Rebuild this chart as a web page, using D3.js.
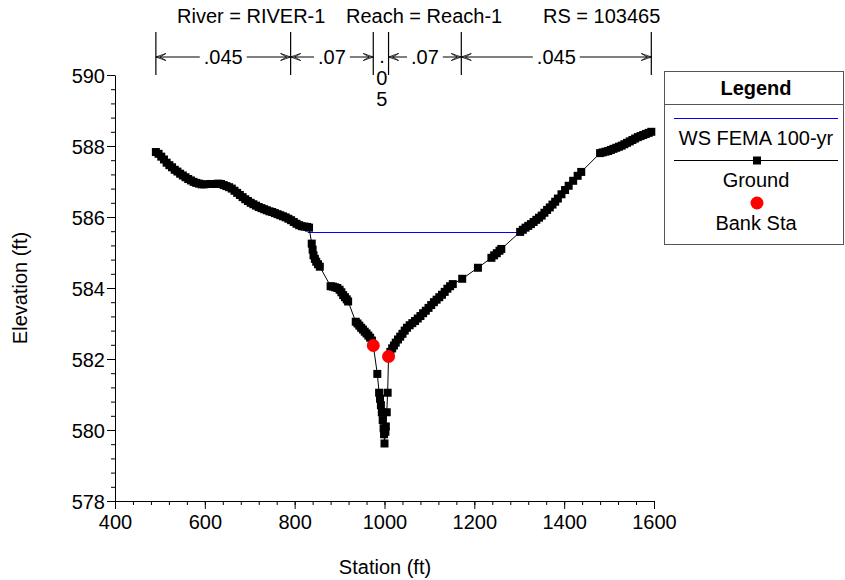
<!DOCTYPE html>
<meta charset="utf-8">
<script src="https://d3js.org/d3.v7.min.js"></script>
<style>
  body { margin: 0; background: #fff; }
  svg { display: block; font-family: "Liberation Sans", Arial, sans-serif; }
</style>
<div id="chart"></div>
<script>

// header info
var riverText = "River = RIVER-1";
var reachText = "Reach = Reach-1";
var rsText = "RS = 103465";

// manning n breaks (station) and values between them
var nStations = [491, 791, 975, 1009, 1171, 1594];
var nValues = [".045", ".07", ".05", ".07", ".045"];

// ground profile
var groundSta = [491, 497, 503, 509, 515, 521, 527, 533, 539, 545, 551, 557, 563, 569, 575, 581, 587, 593, 599,
  612, 618, 624, 630, 636, 642, 648, 654, 660, 666, 672, 678, 684, 690, 696, 702, 708, 714, 720, 726, 732, 738,
  744, 750, 756, 762, 768, 774, 780, 786, 792, 798, 804, 810, 816, 822, 828, 832,
  838, 840, 842, 845, 848, 852, 856, 880, 885, 890, 895, 900, 904, 908, 912, 916, 919,
  936, 940, 944, 948, 952, 956, 960, 964, 968, 972, 975,
  984, 988, 990, 992, 994, 996, 998, 999, 1000, 1002, 1003, 1005, 1007, 1009,
  1013, 1017, 1021, 1025, 1030, 1035, 1040, 1045, 1050, 1056, 1062, 1068, 1074, 1080, 1086, 1092, 1098,
  1104, 1110, 1116, 1122, 1128, 1134, 1140, 1146, 1152, 1173, 1208, 1238, 1244, 1250, 1256, 1260,
  1302, 1308, 1314, 1320, 1326, 1332, 1338, 1344, 1350, 1356, 1362, 1368, 1374, 1380, 1386, 1394, 1402,
  1410, 1420, 1430, 1438, 1480, 1486, 1492, 1498, 1504, 1510, 1516, 1522, 1528, 1534, 1540, 1546, 1552,
  1558, 1564, 1570, 1576, 1582, 1588, 1594];
var groundElev = [587.83, 587.78, 587.70, 587.62, 587.53, 587.46, 587.40, 587.33, 587.28, 587.22, 587.17, 587.12,
  587.07, 587.03, 586.99, 586.96, 586.94, 586.92, 586.92,
  586.93, 586.93, 586.93, 586.94, 586.93, 586.90, 586.87, 586.84, 586.80, 586.74, 586.68, 586.62, 586.56, 586.50,
  586.45, 586.40, 586.36, 586.32, 586.28, 586.25, 586.22, 586.19, 586.16, 586.14, 586.11, 586.08, 586.05, 586.02,
  585.99, 585.95, 585.91, 585.86, 585.81, 585.77, 585.74, 585.73, 585.72, 585.70,
  585.25, 585.08, 584.92, 584.82, 584.74, 584.67, 584.60, 584.05, 584.04, 584.02, 584.00, 583.95, 583.88, 583.80,
  583.74, 583.68, 583.62,
  583.05, 583.00, 582.94, 582.88, 582.83, 582.77, 582.72, 582.66, 582.60, 582.52, 582.38,
  581.58, 581.05, 580.88, 580.70, 580.50, 580.28, 580.05, 579.88, 579.62, 579.95, 580.10, 580.50, 581.05, 582.07,
  582.20, 582.30, 582.38, 582.46, 582.55, 582.63, 582.71, 582.80, 582.88, 582.95, 583.01, 583.07, 583.14, 583.21,
  583.29, 583.36, 583.44, 583.52, 583.60, 583.67, 583.74, 583.81, 583.89, 583.98, 584.05, 584.11, 584.26, 584.57,
  584.85, 584.92, 584.98, 585.05, 585.10,
  585.58, 585.64, 585.70, 585.75, 585.80, 585.86, 585.92, 585.98, 586.04, 586.12, 586.20, 586.27, 586.35, 586.43,
  586.52, 586.64, 586.76, 586.88, 587.02, 587.16, 587.27, 587.80, 587.82, 587.84, 587.86, 587.89, 587.92, 587.95,
  587.98, 588.01, 588.05, 588.09, 588.13, 588.17, 588.21, 588.25, 588.28, 588.31, 588.34, 588.37, 588.40];

// water surface
var wsSta = [829, 1302];
var wsElev = [585.58, 585.58];

// bank stations
var bankSta = [975, 1009];
var bankElev = [582.38, 582.07];

var xTicks = [400, 600, 800, 1000, 1200, 1400, 1600];
var yTicks = [578, 580, 582, 584, 586, 588, 590];

var W = 845, H = 580;
var svg = d3.select("#chart").append("svg").attr("width", W).attr("height", H);

var x = d3.scaleLinear().domain([400, 1600]).range([115, 654]);
var y = d3.scaleLinear().domain([578, 590]).range([501, 75]);

// axes
var xMinor = d3.range(400, 1601, 40);
var yMinor = d3.range(0, 31).map(function(i){ return 578 + i * 0.4; });

svg.append("g").attr("transform", "translate(0,501)")
  .call(d3.axisBottom(x).tickValues(xMinor).tickSize(4).tickFormat(""))
  .call(function(g){ g.select(".domain").remove(); });
svg.append("g").attr("transform", "translate(0,501)")
  .call(d3.axisBottom(x).tickValues(xTicks).tickSize(8).tickSizeOuter(0).tickPadding(6).tickFormat(d3.format("d")))
  .call(function(g){
    g.selectAll("text").attr("font-size", 20).attr("fill", "#000").attr("dy", null).attr("y", 28)
      .attr("font-family", "Liberation Sans, Arial, sans-serif");
    g.selectAll("line, path").attr("stroke", "#000");
  });

svg.append("g").attr("transform", "translate(115,0)")
  .call(d3.axisLeft(y).tickValues(yMinor).tickSize(4).tickFormat(""))
  .call(function(g){ g.select(".domain").remove(); });
svg.append("g").attr("transform", "translate(115,0)")
  .call(d3.axisLeft(y).tickValues(yTicks).tickSize(8).tickSizeOuter(0).tickFormat(d3.format("d")))
  .call(function(g){
    g.selectAll("text").attr("font-size", 20).attr("fill", "#000").attr("x", -10).attr("dy", "0.36em")
      .attr("font-family", "Liberation Sans, Arial, sans-serif");
    g.selectAll("line, path").attr("stroke", "#000");
  });

svg.selectAll("g line").attr("stroke", "#000");

// axis titles
svg.append("text").attr("x", 385).attr("y", 574).attr("text-anchor", "middle")
  .attr("font-size", 20).text("Station (ft)");
svg.append("text").attr("transform", "translate(27,288)rotate(-90)").attr("text-anchor", "middle")
  .attr("font-size", 20).text("Elevation (ft)");

// header
svg.append("text").attr("x", 177).attr("y", 23).attr("font-size", 20).text(riverText);
svg.append("text").attr("x", 346).attr("y", 23).attr("font-size", 20).text(reachText);
svg.append("text").attr("x", 543).attr("y", 23).attr("font-size", 20).text(rsText);

// n value brackets
var by = 57;
nStations.forEach(function(s){
  svg.append("line").attr("x1", x(s)).attr("x2", x(s)).attr("y1", 32).attr("y2", 75)
    .attr("stroke", "#000").attr("stroke-width", 1.2);
});

function arrowHead(x0, dir){
  // open double chevron pointing at x0
  var p = d3.path();
  p.moveTo(x0 + dir * 10, by - 3.5); p.lineTo(x0, by); p.lineTo(x0 + dir * 10, by + 3.5);
  p.moveTo(x0 + dir * 10, by - 3.5); p.lineTo(x0 + dir * 4, by);
  p.moveTo(x0 + dir * 10, by + 3.5); p.lineTo(x0 + dir * 4, by);
  svg.append("path").attr("d", p.toString()).attr("fill", "none").attr("stroke", "#000").attr("stroke-width", 0.8);
}

nValues.forEach(function(v, i){
  var a = x(nStations[i]), b = x(nStations[i + 1]), mid = (a + b) / 2;
  if (b - a < 40) {
    // too narrow: stack the characters
    var chars = v.split("");
    var bl = [63, 85, 106];
    chars.forEach(function(c, j){
      svg.append("text").attr("x", mid + 1).attr("y", bl[j]).attr("text-anchor", "middle")
        .attr("font-size", 20).text(c);
    });
    return;
  }
  var t = svg.append("text").attr("x", mid).attr("y", by + 7).attr("text-anchor", "middle")
    .attr("font-size", 20).text(v);
  var tw = t.node().getComputedTextLength();
  svg.append("line").attr("x1", a).attr("x2", mid - tw / 2 - 4).attr("y1", by).attr("y2", by)
    .attr("stroke", "#000").attr("stroke-width", 1);
  svg.append("line").attr("x1", mid + tw / 2 + 4).attr("x2", b).attr("y1", by).attr("y2", by)
    .attr("stroke", "#000").attr("stroke-width", 1);
  arrowHead(a, 1);
  arrowHead(b, -1);
});

// water surface
svg.append("path")
  .datum(d3.zip(wsSta, wsElev))
  .attr("d", d3.line().x(function(d){ return x(d[0]); }).y(function(d){ return Math.round(y(d[1])) + 0.5; }))
  .attr("fill", "none").attr("stroke", "#0000ff").attr("stroke-width", 1.2);

// ground
var ground = d3.zip(groundSta, groundElev);
svg.append("path")
  .datum(ground)
  .attr("d", d3.line().x(function(d){ return x(d[0]); }).y(function(d){ return y(d[1]); }))
  .attr("fill", "none").attr("stroke", "#000").attr("stroke-width", 1);
svg.selectAll("rect.gpt").data(ground).enter().append("rect")
  .attr("class", "gpt")
  .attr("x", function(d){ return x(d[0]) - 4; })
  .attr("y", function(d){ return y(d[1]) - 4; })
  .attr("width", 8).attr("height", 8).attr("fill", "#000");

// bank stations
svg.selectAll("circle.bank").data(d3.zip(bankSta, bankElev)).enter().append("circle")
  .attr("class", "bank")
  .attr("cx", function(d){ return x(d[0]); })
  .attr("cy", function(d){ return y(d[1]); })
  .attr("r", 6.5).attr("fill", "#ff0000");

// legend
var lg = svg.append("g");
lg.append("rect").attr("x", 664.5).attr("y", 71.5).attr("width", 179).attr("height", 173)
  .attr("fill", "#fff").attr("stroke", "#555").attr("stroke-width", 1);
lg.append("line").attr("x1", 664.5).attr("x2", 843.5).attr("y1", 104.5).attr("y2", 104.5)
  .attr("stroke", "#555");
lg.append("text").attr("x", 756).attr("y", 95).attr("text-anchor", "middle")
  .attr("font-size", 20).attr("font-weight", "bold").text("Legend");
lg.append("line").attr("x1", 674).attr("x2", 838).attr("y1", 118.5).attr("y2", 118.5)
  .attr("stroke", "#0000ff").attr("stroke-width", 1.2);
lg.append("text").attr("x", 756).attr("y", 145).attr("text-anchor", "middle")
  .attr("font-size", 20).text("WS FEMA 100-yr");
lg.append("line").attr("x1", 674).attr("x2", 838).attr("y1", 160.5).attr("y2", 160.5)
  .attr("stroke", "#000").attr("stroke-width", 1);
lg.append("rect").attr("x", 753).attr("y", 156.5).attr("width", 8).attr("height", 8).attr("fill", "#000");
lg.append("text").attr("x", 756).attr("y", 187).attr("text-anchor", "middle")
  .attr("font-size", 20).text("Ground");
lg.append("circle").attr("cx", 757).attr("cy", 203).attr("r", 6.5).attr("fill", "#ff0000");
lg.append("text").attr("x", 756).attr("y", 230).attr("text-anchor", "middle")
  .attr("font-size", 20).text("Bank Sta");

</script>
